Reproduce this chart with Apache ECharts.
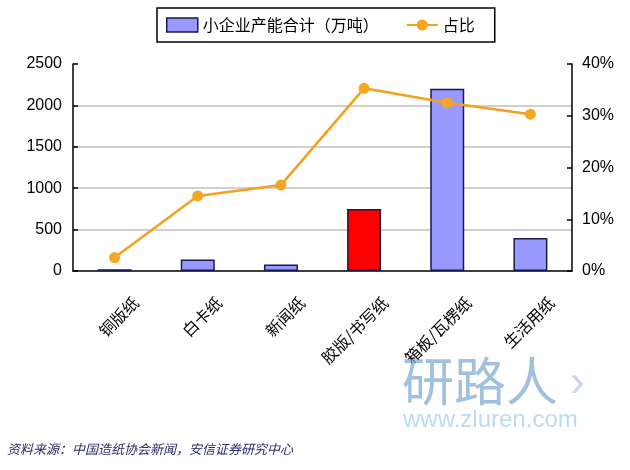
<!DOCTYPE html>
<html>
<head>
<meta charset="utf-8">
<script src="https://cdn.jsdelivr.net/npm/echarts@6/dist/echarts.min.js"></script>
<style>
html,body{margin:0;padding:0;background:#fff;}
#c{width:630px;height:470px;}
</style>
</head>
<body>
<div id="c"></div>
<script>
var categories = ['铜版纸', '白卡纸', '新闻纸', '胶版/书写纸', '箱板/瓦楞纸', '生活用纸'];
var capacity = [20, 140, 80, 750, 2200, 400];
var share = [2.6, 14.5, 16.6, 35.3, 32.5, 30.3];
var highlightIndex = 3;
var leftTicks = {min: 0, max: 2500, interval: 500};
var rightTicks = {min: 0, max: 40, interval: 10};
var seriesNames = ['小企业产能合计（万吨）', '占比'];
var sourceText = '资料来源：中国造纸协会新闻，安信证券研究中心';

var numFont = '"Liberation Sans", Arial, sans-serif';
var cjkFont = '"Noto Sans CJK SC", sans-serif';

var chart = echarts.init(document.getElementById('c'), null, {renderer: 'canvas'});
var barData = capacity.map(function (v, i) {
  if (i === highlightIndex) {
    return {value: v, itemStyle: {color: '#FF0000'}};
  }
  return v;
});

chart.setOption({
  animation: false,
  backgroundColor: '#ffffff',
  legend: {
    left: 157,
    top: 8,
    padding: [9, 20, 9, 9],
    itemGap: 27,
    itemWidth: 31,
    itemHeight: 14,
    borderColor: '#000',
    borderWidth: 1.5,
    textStyle: {fontFamily: cjkFont, fontSize: 16, color: '#000'},
    data: [
      {name: seriesNames[0], icon: 'rect', itemStyle: {color: '#9999FF', borderColor: '#1a1a4a', borderWidth: 1.5}},
      {name: seriesNames[1]}
    ]
  },
  grid: {left: 73, right: 58, top: 64, bottom: 199, containLabel: false},
  xAxis: {
    type: 'category',
    data: categories,
    axisLine: {lineStyle: {color: '#000', width: 1.5}},
    axisTick: {inside: true, length: 5, lineStyle: {color: '#000', width: 1.5}},
    axisLabel: {
      rotate: 45,
      interval: 0,
      margin: 50,
      padding: [0, -30, 0, 0],
      fontFamily: cjkFont,
      fontSize: 16,
      color: '#000'
    }
  },
  yAxis: [
    {
      type: 'value',
      min: leftTicks.min, max: leftTicks.max, interval: leftTicks.interval,
      axisLine: {show: true, lineStyle: {color: '#000', width: 1.5}},
      axisTick: {show: true, inside: true, length: 5, lineStyle: {color: '#000', width: 1.5}},
      axisLabel: {margin: 11, fontFamily: numFont, fontSize: 16, color: '#000', formatter: function (v) { return String(v); }},
      splitLine: {show: true, showMaxLine: false, showMinLine: false, lineStyle: {color: '#c0c0c0', width: 1.5}}
    },
    {
      type: 'value',
      position: 'right',
      min: rightTicks.min, max: rightTicks.max, interval: rightTicks.interval,
      axisLine: {show: true, lineStyle: {color: '#000', width: 1.5}},
      axisTick: {show: true, inside: true, length: 5, lineStyle: {color: '#000', width: 1.5}},
      axisLabel: {margin: 10, fontFamily: numFont, fontSize: 16, color: '#000', formatter: function (v) { return v + '%'; }},
      splitLine: {show: false}
    }
  ],
  series: [
    {
      name: seriesNames[0],
      type: 'bar',
      yAxisIndex: 0,
      barWidth: 34,
      data: barData,
      itemStyle: {color: '#9999FF', borderColor: '#1a1a4a', borderWidth: 1.5}
    },
    {
      name: seriesNames[1],
      type: 'line',
      yAxisIndex: 1,
      data: share,
      symbol: 'circle',
      symbolSize: 11,
      lineStyle: {color: '#F2A020', width: 2.5},
      itemStyle: {color: '#F5A623'}
    }
  ],
  graphic: [
    {
      type: 'text', left: 402, top: 355, silent: true, z: 100,
      style: {text: '研路人', fontFamily: cjkFont, fontSize: 52, fill: 'rgba(120,165,210,0.7)'}
    },
    {
      type: 'text', left: 570, top: 362, silent: true, z: 100,
      style: {text: '›', fontFamily: numFont, fontSize: 44, fill: 'rgba(150,175,210,0.5)'}
    },
    {
      type: 'text', left: 403, top: 408, silent: true, z: 100,
      style: {text: 'www.zluren.com', fontFamily: numFont, fontSize: 24, fill: 'rgba(170,210,240,0.8)'}
    },
    {
      type: 'text', left: 7, top: 443, silent: true,
      style: {text: sourceText, fontFamily: cjkFont, fontSize: 13, fontStyle: 'italic', fill: '#2a2a6a'}
    }
  ]
});
</script>
</body>
</html>
